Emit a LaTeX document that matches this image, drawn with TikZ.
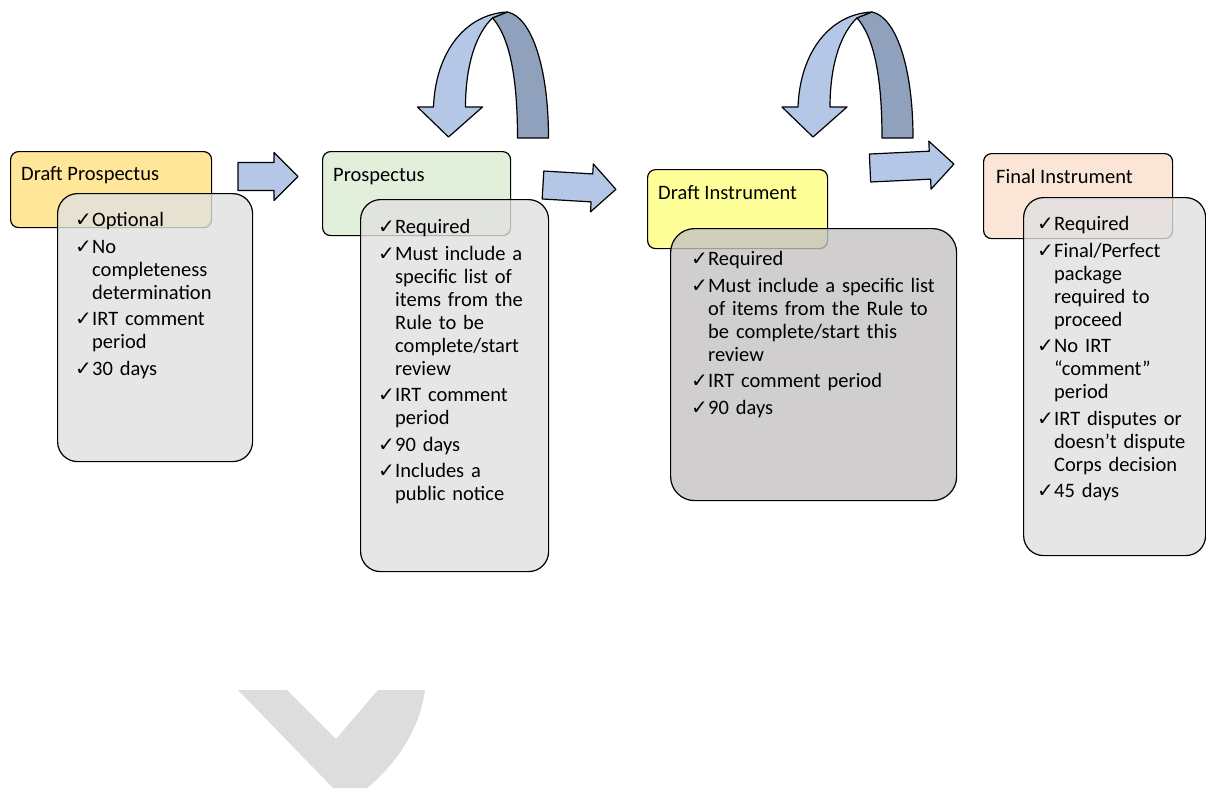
\documentclass[tikz,border=0pt]{standalone}
\usepackage{fontspec}
\setmainfont{Carlito}
\newfontfamily\chkfont{DejaVu Sans}
\usepackage{xcolor}
\usepackage{tikz}
\usetikzlibrary{positioning, calc}
\definecolor{draftorange}{HTML}{FFE699}
\definecolor{prospgreen}{HTML}{E2EFDA}
\definecolor{instryellow}{HTML}{FFFF99}
\definecolor{finalpeach}{HTML}{FBE5D6}
\definecolor{listgray}{HTML}{E1E0E0}
\definecolor{listdark}{HTML}{C4C2C2}
\definecolor{arrowblue}{HTML}{B4C7E7}
\definecolor{arrowshade}{HTML}{8FA1BC}
\definecolor{chevrongray}{HTML}{DDDDDD}

\newcommand{\tick}{\par\setlength{\parskip}{3.5pt}\hangindent=17pt\hangafter=1\noindent\makebox[17pt][l]{\chkfont\fontsize{20}{20}\selectfont ✓}\strut}

\begin{document}
\begin{tikzpicture}[
    x=1pt, y=-1pt,
    titlebox/.style={
        rectangle,
        rounded corners=8pt,
        draw=black,
        line width=1.2pt,
        anchor=north west,
        inner sep=0pt
    },
    listbox/.style={
        rectangle,
        rounded corners=20pt,
        draw=black,
        line width=1.2pt,
        fill=listgray,
        fill opacity=0.8,
        anchor=north west,
        inner sep=0pt
    },
    titletext/.style={
        font=\fontsize{20.5}{24}\selectfont,
        inner sep=0pt
    },
    listtext/.style={
        font=\fontsize{20.5}{23}\selectfont,
        inner sep=0pt,
        align=left,
        text width=#1
    },
    flatarrow/.style={
        draw=black,
        line width=1.2pt,
        fill=arrowblue,
        line join=round
    },
    turnarrow/.style={
        draw=black,
        line width=1.2pt,
        line join=round
    }
]
\useasboundingbox (0,0) rectangle (1206,788);

% Background chevron
\fill[chevrongray] (238,690) -- (287,690) -- (336,739) -- (378,690) -- (425,690)
    .. controls (420,730) and (395,765) .. (367,788) -- (333,788) -- cycle;

% Draft prospectus
\node[titlebox, fill=draftorange, minimum width=201pt, minimum height=76pt] (dp) at (10,151) {};
\node[listbox, minimum width=195pt, minimum height=268pt] (dpbox) at (57,193) {};
\node[titletext, below right=29pt and 11pt of dp.north west, anchor=base west] (dptext) {Draft Prospectus};
\node[listtext=170pt, below right=7pt and 18pt of dpbox.north west] (dplist) {%
    \tick Optional
    \tick No\newline completeness\newline determination
    \tick IRT comment\newline period
    \tick 30 days\par};

% Prospectus
\node[titlebox, fill=prospgreen, minimum width=188pt, minimum height=84pt] (pr) at (322,151) {};
\node[listbox, minimum width=188pt, minimum height=372pt] (prbox) at (360,199) {};
\node[titletext, below right=30pt and 11pt of pr.north west, anchor=base west] (prtext) {Prospectus};
\node[listtext=175pt, below right=8pt and 18pt of prbox.north west] (prlist) {%
    \tick Required
    \tick Must include a\newline specific list of\newline items from the\newline Rule to be\newline complete/start\newline review
    \tick IRT comment\newline period
    \tick 90 days
    \tick Includes a\newline public notice\par};

% Draft instrument
\node[titlebox, fill=instryellow, minimum width=180pt, minimum height=79pt] (di) at (647,169) {};
\node[listbox, fill=listdark, rounded corners=24pt, minimum width=286pt, minimum height=272pt] (dibox) at (670,228) {};
\node[titletext, below right=30pt and 11pt of di.north west, anchor=base west] (ditext) {Draft Instrument};
\node[listtext=260pt, below right=11pt and 21pt of dibox.north west] (dilist) {%
    \tick Required
    \tick Must include a specific list\newline of items from the Rule to\newline be complete/start this\newline review
    \tick IRT comment period
    \tick 90 days\par};

% Final instrument
\node[titlebox, fill=finalpeach, minimum width=189pt, minimum height=85pt] (fi) at (983,153) {};
\node[listbox, minimum width=182pt, minimum height=358pt] (fibox) at (1023,197) {};
\node[titletext, below right=30pt and 13pt of fi.north west, anchor=base west] (fitext) {Final Instrument};
\node[listtext=175pt, below right=7pt and 14pt of fibox.north west] (filist) {%
    \tick Required
    \tick Final/Perfect\newline package\newline required to\newline proceed
    \tick No IRT\newline “comment”\newline period
    \tick IRT disputes or\newline doesn’t dispute\newline Corps decision
    \tick 45 days\par};

% Block arrows between the steps
\foreach \sx/\sy/\len/\ang in {238/176.5/60/0, 543/185/73/-3.4, 870/168/84/2.7} {
    \draw[flatarrow, shift={(\sx,\sy)}, rotate=\ang]
        (0,-14) -- (\len-24,-14) -- (\len-24,-24) -- (\len,0)
        -- (\len-24,24) -- (\len-24,14) -- (0,14) -- cycle;
}

% U-turn arrows (repeat a step)
\foreach \ux in {433.5,798} {
    \begin{scope}[shift={(\ux,12)}]
        \draw[turnarrow, fill=arrowblue] (-16,95) -- (0,95)
            .. controls (2,40) and (32,2) .. (74,0) -- (59,6)
            .. controls (44,20) and (32,50) .. (32,95) -- (49,95) -- (15,125) -- cycle;
        \draw[turnarrow, fill=arrowshade] (59,6)
            .. controls (76,25) and (84,65) .. (84,126) -- (115,126)
            .. controls (115,55) and (98,5) .. (74,0) -- cycle;
    \end{scope}
}

\end{tikzpicture}
\end{document}
